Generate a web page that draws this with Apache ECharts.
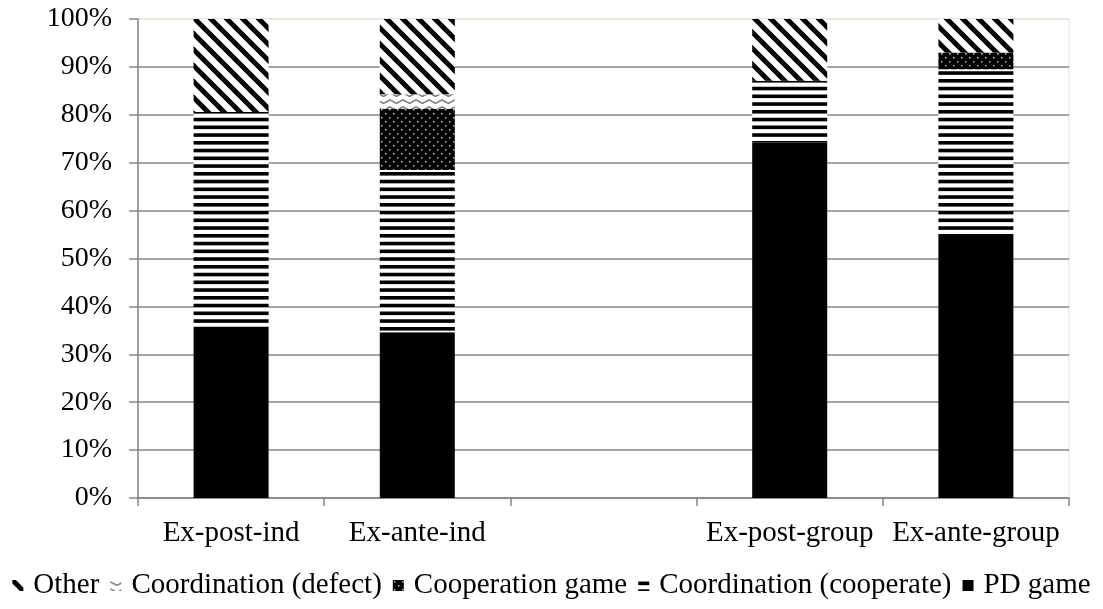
<!DOCTYPE html>
<html>
<head>
<meta charset="utf-8">
<style>
  html, body { margin: 0; padding: 0; background: #fff; }
  #chart { width: 1103px; height: 609px; }
</style>
<script src="https://cdn.jsdelivr.net/npm/echarts@6/dist/echarts.min.js"></script>
</head>
<body>
<div id="chart"></div>
<script>
// Share of game classifications per treatment (percent); the blank slot separates ind / group
const categories = ['Ex-post-ind', 'Ex-ante-ind', '', 'Ex-post-group', 'Ex-ante-group'];
const pdGame = [35.8, 34.6, '-', 74.2, 55.1];
const coordCooperate = [44.8, 33.9, '-', 12.9, 34.4];
const cooperationGame = [0, 12.7, '-', 0, 3.5];
const coordDefect = [0, 3.1, '-', 0, 0];
const other = [19.4, 15.7, '-', 12.9, 7.0];
const yTicks = [0, 10, 20, 30, 40, 50, 60, 70, 80, 90, 100];

const FONT = '"Liberation Serif", "Times New Roman", serif';
const FS = 29;

function tile(w, h, draw) {
  const c = document.createElement('canvas');
  c.width = w; c.height = h;
  const ctx = c.getContext('2d');
  draw(ctx, w, h);
  return { image: c, repeat: 'repeat' };
}

// backslash stripes
const otherFill = tile(16, 16, (ctx, s) => {
  ctx.fillStyle = '#fff'; ctx.fillRect(0, 0, s, s);
  ctx.strokeStyle = '#000'; ctx.lineWidth = 5;
  [-s, 0, s].forEach(c => {
    ctx.beginPath(); ctx.moveTo(-2, c - 2); ctx.lineTo(s + 2, s + c + 2); ctx.stroke();
  });
});

// zigzag waves
const defectFill = tile(13, 7, (ctx, w, h) => {
  ctx.fillStyle = '#fff'; ctx.fillRect(0, 0, w, h);
  ctx.strokeStyle = '#7a7a7a'; ctx.lineWidth = 1.5;
  ctx.beginPath();
  ctx.moveTo(-0.5, 1.5); ctx.lineTo(6.5, 5.5); ctx.lineTo(13.5, 1.5);
  ctx.stroke();
});

// black with white dots
const cooperationFill = tile(8, 8, (ctx, w, h) => {
  ctx.fillStyle = '#000'; ctx.fillRect(0, 0, w, h);
  ctx.fillStyle = '#c8c8c8';
  ctx.fillRect(1, 1, 1.5, 1.5);
  ctx.fillRect(5, 5, 1.5, 1.5);
});

// horizontal stripes
const coopFill = tile(4, 31, (ctx, w, h) => {
  ctx.fillStyle = '#fff'; ctx.fillRect(0, 0, w, h);
  ctx.fillStyle = '#000';
  for (let i = 0; i < 4; i++) ctx.fillRect(0, i * 7.75 + 1.5, w, 3.6);
});

const chart = echarts.init(document.getElementById('chart'), null, { renderer: 'canvas' });

function barSeries(name, data, color) {
  return {
    name, type: 'bar', stack: 'total', data,
    barWidth: 75,
    itemStyle: { color },
    emphasis: { disabled: true }
  };
}

chart.setOption({
  animation: false,
  textStyle: { fontFamily: FONT, color: '#000' },
  grid: {
    left: 138, right: 34, top: 19, bottom: 111,
    show: true, borderColor: '#e6e3da', borderWidth: 1
  },
  legend: {
    top: 566,
    left: 'center',
    icon: 'rect',
    itemWidth: 11,
    itemHeight: 11,
    itemGap: 11,
    data: ['Other', 'Coordination (defect)', 'Cooperation game', 'Coordination (cooperate)', 'PD game'],
    textStyle: { fontFamily: FONT, fontSize: FS, color: '#000', padding: [0, 0, 0, 5] }
  },
  xAxis: {
    type: 'category',
    data: categories,
    axisLine: { lineStyle: { color: '#868686', width: 1.5 } },
    axisTick: { show: true, length: 8, lineStyle: { color: '#868686', width: 1.5 } },
    axisLabel: { fontFamily: FONT, fontSize: FS, color: '#000', margin: 21, interval: 0 }
  },
  yAxis: {
    type: 'value',
    min: yTicks[0], max: yTicks[yTicks.length - 1], interval: 10,
    axisLine: { show: true, lineStyle: { color: '#868686', width: 1.5 } },
    axisTick: { show: true, length: 9, lineStyle: { color: '#868686', width: 1.5 } },
    axisLabel: { fontFamily: FONT, fontSize: 28, color: '#000', margin: 26, formatter: v => v + '%' },
    splitLine: {
      lineStyle: {
        color: ['#868686', '#868686', '#868686', '#868686', '#868686', '#868686',
                '#868686', '#868686', '#868686', '#868686', '#e6e3da'],
        width: 1.5
      }
    }
  },
  series: [
    barSeries('PD game', pdGame, '#000'),
    barSeries('Coordination (cooperate)', coordCooperate, coopFill),
    barSeries('Cooperation game', cooperationGame, cooperationFill),
    barSeries('Coordination (defect)', coordDefect, defectFill),
    barSeries('Other', other, otherFill)
  ]
});
</script>
</body>
</html>
